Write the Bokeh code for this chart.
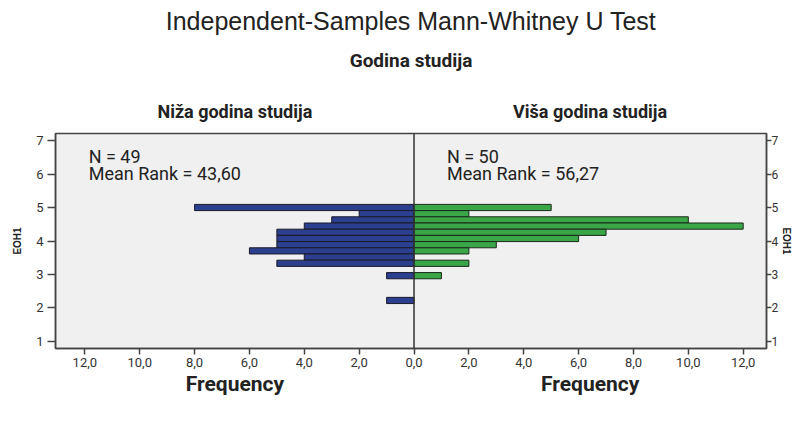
from bokeh.plotting import figure
from bokeh.models import Range1d, LinearAxis, FixedTicker, Label, Span
from bokeh.embed import file_html
from bokeh.resources import INLINE

# ---- data ----
bin_centers = [5.00, 4.815, 4.63, 4.445, 4.26, 4.075, 3.89, 3.705,
               3.52, 3.335, 3.15, 2.965, 2.78, 2.595, 2.41, 2.225]
bin_width = 0.185
counts_lower = [8, 2, 3, 4, 5, 5, 5, 6, 4, 5, 0, 1, 0, 0, 0, 1]
counts_higher = [5, 2, 10, 12, 7, 6, 3, 2, 0, 2, 0, 1, 0, 0, 0, 0]
group_names = ["Niža godina studija", "Viša godina studija"]
group_centers = [-6.53, 6.42]
group_n = [49, 50]
group_mean_rank = ["43,60", "56,27"]
freq_ticks = [-12, -10, -8, -6, -4, -2, 0, 2, 4, 6, 8, 10, 12]
freq_labels = ["12,0", "10,0", "8,0", "6,0", "4,0", "2,0", "0,0",
               "2,0", "4,0", "6,0", "8,0", "10,0", "12,0"]
y_ticks = [1, 2, 3, 4, 5, 6, 7]
title_text = "Independent-Samples Mann-Whitney U Test"
subtitle_text = "Godina studija"
y_label = "EOH1"
x_label = "Frequency"

NARROW = "Roboto"
SANS = "Liberation Sans"
BLUE = "#2c3f8e"
GREEN = "#3aa648"
DARK = "#444444"

p = figure(width=795, height=407, output_backend="svg", toolbar_location=None,
           title=None,
           x_range=Range1d(-13.07, 12.85), y_range=Range1d(0.791, 7.209),
           min_border_left=55, min_border_right=24, min_border_top=133,
           min_border_bottom=59, background_fill_color="#f0f0f0",
           border_fill_color="white")
p.grid.visible = False
p.outline_line_color = DARK
p.outline_line_width = 1.5

# bars
lo_y = [c for c, n in zip(bin_centers, counts_lower) if n > 0]
lo_v = [-n for n in counts_lower if n > 0]
hi_y = [c for c, n in zip(bin_centers, counts_higher) if n > 0]
hi_v = [n for n in counts_higher if n > 0]
p.hbar(y=lo_y, left=lo_v, right=0, height=bin_width, fill_color=BLUE,
       line_color="#1a1a2a", line_width=1)
p.hbar(y=hi_y, left=0, right=hi_v, height=bin_width, fill_color=GREEN,
       line_color="#1a2a1a", line_width=1)

p.add_layout(Span(location=0, dimension="height", line_color="#333333", line_width=1.5))

# bottom frequency axis
xa = p.xaxis[0]
xa.ticker = FixedTicker(ticks=freq_ticks)
xa.major_label_overrides = {t: l for t, l in zip(freq_ticks, freq_labels)}
xa.minor_tick_line_color = None
xa.major_tick_out = 6
xa.major_tick_in = 0
xa.major_label_standoff = 3
xa.major_label_text_font = NARROW
xa.major_label_text_font_size = "13px"
xa.major_label_text_color = "#333333"
xa.axis_line_color = DARK
xa.axis_line_width = 1.5
xa.major_tick_line_color = DARK
xa.major_tick_line_width = 1.5

# text-only axes: "Frequency" under each half, group names above each half
def text_axis(place, ticks, labels, size, standoff):
    ax = LinearAxis(ticker=FixedTicker(ticks=ticks),
                    major_label_overrides={t: l for t, l in zip(ticks, labels)})
    ax.axis_line_color = None
    ax.major_tick_line_color = None
    ax.minor_tick_line_color = None
    ax.major_tick_out = 0
    ax.major_tick_in = 0
    ax.major_label_standoff = standoff
    ax.major_label_text_font = NARROW
    ax.major_label_text_font_style = "bold"
    ax.major_label_text_font_size = size
    ax.major_label_text_color = "#222222"
    p.add_layout(ax, place)
    return ax

text_axis("below", group_centers, [x_label, x_label], "21px", 2)
group_axis = text_axis("above", group_centers, group_names, "18px", 12)
group_axis.axis_label = subtitle_text
group_axis.axis_label_standoff = 26
group_axis.axis_label_text_font = NARROW
group_axis.axis_label_text_font_style = "bold"
group_axis.axis_label_text_font_size = "19px"
group_axis.axis_label_text_color = "#222222"

title_axis = text_axis("above", [], [], "10px", 0)
title_axis.axis_label = title_text
title_axis.axis_label_standoff = 11
title_axis.axis_label_text_font = SANS
title_axis.axis_label_text_font_style = "normal"
title_axis.axis_label_text_font_size = "25px"
title_axis.axis_label_text_color = "#222222"

# y axes
ya = p.yaxis[0]
ya2 = LinearAxis()
p.add_layout(ya2, "right")
for ax in (ya, ya2):
    ax.ticker = FixedTicker(ticks=y_ticks)
    ax.minor_tick_line_color = None
    ax.major_tick_out = 8
    ax.major_tick_in = 0
    ax.major_label_standoff = 4
    ax.major_label_text_font = NARROW
    ax.major_label_text_font_size = "13px"
    ax.major_label_text_color = "#333333"
    ax.axis_line_color = DARK
    ax.axis_line_width = 1.5
    ax.major_tick_line_color = DARK
    ax.major_tick_line_width = 1.5
    ax.axis_label = y_label
    ax.axis_label_text_font = SANS
    ax.axis_label_text_font_style = "bold"
    ax.axis_label_text_font_size = "10px"
    ax.axis_label_text_color = "#222222"
ya.axis_label_standoff = 10
ya2.major_tick_out = 5
ya2.axis_label_standoff = 0
ya2.major_label_standoff = 0
ya2.major_label_text_font_size = "12px"

# annotation texts inside the frame
def add_label(x, y, text):
    p.add_layout(Label(x=x, y=y, text=text, text_font=NARROW, text_font_size="18px",
                       text_align="left", text_baseline="middle", text_color="#222222"))

add_label(-11.86, 6.53, f"N = {group_n[0]}")
add_label(-11.86, 6.02, f"Mean Rank = {group_mean_rank[0]}")
add_label(1.2, 6.53, f"N = {group_n[1]}")
add_label(1.2, 6.02, f"Mean Rank = {group_mean_rank[1]}")

open("out.html", "w").write(file_html(p, INLINE))
